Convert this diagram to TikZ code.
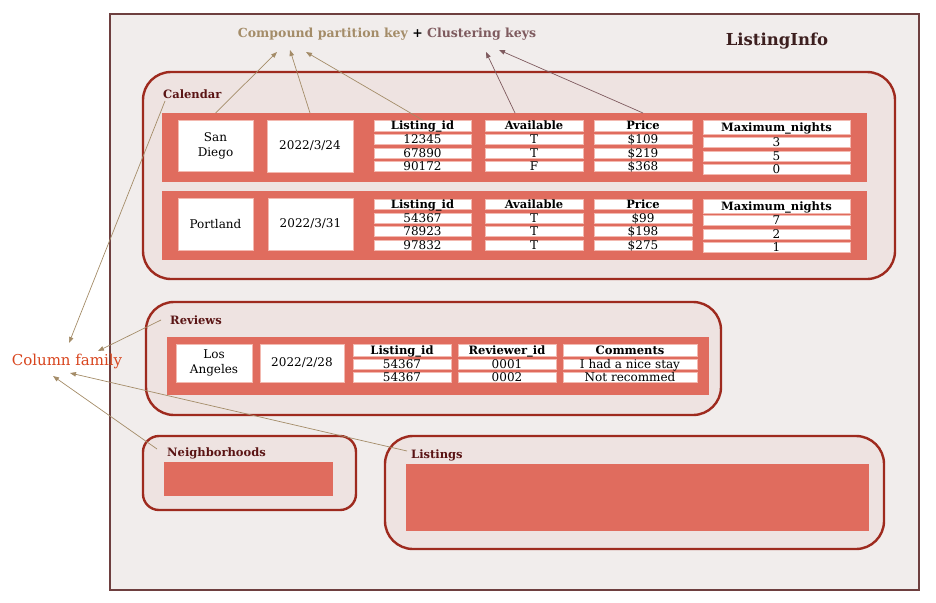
\documentclass[tikz,border=0pt]{standalone}
\usepackage{fontspec}
\setmainfont{DejaVu Serif}
\usetikzlibrary{arrows.meta}
\definecolor{outerfill}{HTML}{F1EDEC}
\definecolor{outerdraw}{HTML}{6E3F3F}
\definecolor{grpfill}{HTML}{EEE3E1}
\definecolor{grpdraw}{HTML}{9E2A1E}
\definecolor{salmon}{HTML}{E06C5E}
\definecolor{lbl}{HTML}{5A1414}
\definecolor{tanc}{HTML}{A48C68}
\definecolor{mauve}{HTML}{7E5A5E}
\definecolor{cfc}{HTML}{D8451E}
\definecolor{cellline}{HTML}{F3B9B0}
\definecolor{titledark}{HTML}{3D1F1F}
\newcommand\mybox[7]{\node[#1, minimum width={(#5-#3)*1pt}, minimum height={(#6-#4)*1pt}] (#2) at ({(#3+#5)/2},{(#4+#6)/2}) {#7};}
\tikzset{
  outerbox/.style={draw=outerdraw, fill=outerfill, line width=1.2pt, inner sep=0pt, outer sep=0pt},
  grpbox/.style={draw=grpdraw, fill=grpfill, line width=2.4pt, rounded corners=28pt, inner sep=0pt, outer sep=0pt},
  smallgrp/.style={grpbox, rounded corners=16pt},
  rowbox/.style={fill=salmon, inner sep=0pt, outer sep=0pt},
  keybox/.style={fill=white, draw=cellline, line width=0.6pt, inner sep=0pt, outer sep=0pt, align=center, font=\fontsize{12}{15}\selectfont},
  cellbox/.style={fill=white, draw=cellline, line width=0.6pt, inner sep=0pt, outer sep=0pt, text height=8.5pt, text depth=0pt, font=\fontsize{12}{12}\selectfont},
  headbox/.style={cellbox, font=\fontsize{11.5}{11.5}\selectfont\bfseries},
  grplabel/.style={text=lbl, font=\fontsize{11.5}{12}\selectfont\bfseries, inner sep=0pt, anchor=west},
  tanarrow/.style={draw=tanc, line width=0.7pt, -{Triangle[length=6pt,width=4.5pt]}},
  mauvearrow/.style={draw=mauve, line width=0.7pt, -{Triangle[length=6pt,width=4.5pt]}},
}
\begin{document}
\begin{tikzpicture}[x=1pt,y=-1pt]
\useasboundingbox (0,0) rectangle (936,602);
% outer
\mybox{outerbox}{outer}{110}{14}{919}{590}{}
% titles
\node[inner sep=0pt, font=\fontsize{12.5}{14}\selectfont\bfseries] (title) at (387,34)
  {\textcolor{tanc}{Compound partition key} + \textcolor{mauve}{Clustering keys}};
\node[inner sep=0pt, text=titledark, font=\fontsize{16.5}{18}\selectfont\bfseries] (listinginfo) at (777,41) {ListingInfo};
% Column family
\node[inner sep=0pt, text=cfc, font=\fontsize{15}{17}\selectfont] (cf) at (67,361) {Column family};

% Calendar group
\mybox{grpbox}{calendar}{143}{72}{895}{279}{}
\node[grplabel] (callbl) at (163,94) {Calendar};
\mybox{rowbox}{row1}{162}{113}{867}{182}{}
\mybox{rowbox}{row2}{162}{191}{867}{260}{}
% row 1
\mybox{keybox}{sd}{178}{120}{253}{171}{San\\Diego}
\mybox{keybox}{d1}{267}{120}{353}{172}{2022/3/24}
\mybox{headbox}{lh1}{374}{120}{471}{131}{Listing\_id}
\mybox{cellbox}{l11}{374}{134}{471}{144}{12345}
\mybox{cellbox}{l12}{374}{148}{471}{158}{67890}
\mybox{cellbox}{l13}{374}{161}{471}{171}{90172}
\mybox{headbox}{ah1}{485}{120}{583}{131}{Available}
\mybox{cellbox}{a11}{485}{134}{583}{144}{T}
\mybox{cellbox}{a12}{485}{148}{583}{158}{T}
\mybox{cellbox}{a13}{485}{161}{583}{171}{F}
\mybox{headbox}{ph1}{594}{120}{692}{131}{Price}
\mybox{cellbox}{p11}{594}{134}{692}{144}{\$109}
\mybox{cellbox}{p12}{594}{148}{692}{158}{\$219}
\mybox{cellbox}{p13}{594}{161}{692}{171}{\$368}
\mybox{headbox}{mh1}{703}{120}{850}{134}{Maximum\_nights}
\mybox{cellbox}{m11}{703}{137}{850}{147}{3}
\mybox{cellbox}{m12}{703}{151}{850}{161}{5}
\mybox{cellbox}{m13}{703}{164}{850}{174}{0}
% row 2
\mybox{keybox}{pd}{178}{198}{253}{250}{Portland}
\mybox{keybox}{d2}{268}{198}{353}{250}{2022/3/31}
\mybox{headbox}{lh2}{374}{199}{471}{209}{Listing\_id}
\mybox{cellbox}{l21}{374}{213}{471}{223}{54367}
\mybox{cellbox}{l22}{374}{226}{471}{236}{78923}
\mybox{cellbox}{l23}{374}{240}{471}{250}{97832}
\mybox{headbox}{ah2}{485}{199}{583}{209}{Available}
\mybox{cellbox}{a21}{485}{213}{583}{223}{T}
\mybox{cellbox}{a22}{485}{226}{583}{236}{T}
\mybox{cellbox}{a23}{485}{240}{583}{250}{T}
\mybox{headbox}{ph2}{594}{199}{692}{209}{Price}
\mybox{cellbox}{p21}{594}{213}{692}{223}{\$99}
\mybox{cellbox}{p22}{594}{226}{692}{236}{\$198}
\mybox{cellbox}{p23}{594}{240}{692}{250}{\$275}
\mybox{headbox}{mh2}{703}{199}{850}{213}{Maximum\_nights}
\mybox{cellbox}{m21}{703}{215}{850}{225}{7}
\mybox{cellbox}{m22}{703}{229}{850}{239}{2}
\mybox{cellbox}{m23}{703}{242}{850}{252}{1}

% Reviews group
\mybox{grpbox}{reviews}{146}{302}{721}{415}{}
\node[grplabel] (revlbl) at (170,320) {Reviews};
\mybox{rowbox}{row3}{167}{337}{709}{395}{}
\mybox{keybox}{la}{176}{344}{252}{382}{Los\\Angeles}
\mybox{keybox}{d3}{260}{344}{344}{382}{2022/2/28}
\mybox{headbox}{lh3}{353}{344}{451}{356}{Listing\_id}
\mybox{cellbox}{l31}{353}{359}{451}{369}{54367}
\mybox{cellbox}{l32}{353}{372}{451}{382}{54367}
\mybox{headbox}{rh3}{458}{344}{556}{356}{Reviewer\_id}
\mybox{cellbox}{r31}{458}{359}{556}{369}{0001}
\mybox{cellbox}{r32}{458}{372}{556}{382}{0002}
\mybox{headbox}{ch3}{563}{344}{697}{356}{Comments}
\mybox{cellbox}{c31}{563}{359}{697}{369}{I had a nice stay}
\mybox{cellbox}{c32}{563}{372}{697}{382}{Not recommed}

% Neighborhoods group
\mybox{smallgrp}{neigh}{143}{436}{356}{510}{}
\node[grplabel] (neighlbl) at (167,453) {Neighborhoods};
\mybox{rowbox}{row4}{164}{462}{333}{496}{}

% Listings group
\mybox{grpbox}{listings}{385}{436}{884}{549}{}
\node[grplabel] (listlbl) at (411,455) {Listings};
\mybox{rowbox}{row5}{406}{464}{869}{531}{}

% arrow end points
\coordinate (k1) at (277,52);
\coordinate (k2) at (290,50);
\coordinate (k3) at (306,52);
\coordinate (c1) at (486,52);
\coordinate (c2) at (499,50);
\coordinate (c1s) at (515,113);
\coordinate (cf1) at (69,343);
\coordinate (cf2) at (98,351);
\coordinate (cf3) at (53,376);
\coordinate (cf4) at (70,373);

\draw[tanarrow] (row1.north -| sd.north) -- (k1);
\draw[tanarrow] (row1.north -| d1.north) -- (k2);
\draw[tanarrow] (lh1.north) -- (k3);
\draw[mauvearrow] (c1s) -- (c1);
\draw[mauvearrow] (row1.north -| ph1.north) -- (c2);

\draw[tanarrow] ([shift={(2,7)}]callbl.west) -- (cf1);
\draw[tanarrow] ([shift={(-9,0)}]revlbl.west) -- (cf2);
\draw[tanarrow] ([shift={(-10,-4)}]neighlbl.west) -- (cf3);
\draw[tanarrow] ([shift={(-4,-4)}]listlbl.west) -- (cf4);
\end{tikzpicture}
\end{document}
